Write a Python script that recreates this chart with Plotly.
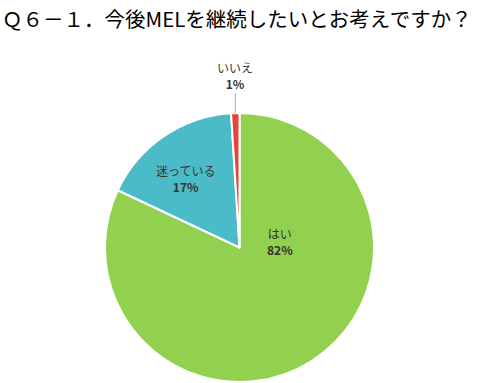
import math
import plotly.graph_objects as go

title_text = "Ｑ６－１．今後MELを継続したいとお考えですか？"
labels = ["はい", "迷っている", "いいえ"]
values = [82, 17, 1]
colors = ["#92D050", "#4BBBC8", "#E8423A"]

W, H = 479, 383
dom_x = [105 / W, 374 / W]
dom_y = [1 / H, 270 / H]
FONT = "Noto Sans CJK JP"

fig = go.Figure()
fig.add_trace(go.Pie(
    labels=labels,
    values=values,
    marker=dict(colors=colors, line=dict(color="white", width=2)),
    sort=False,
    direction="clockwise",
    rotation=0,
    domain=dict(x=dom_x, y=dom_y),
    textinfo="none",
    hoverinfo="label+percent",
    showlegend=False,
))

total = sum(values)
pct = [round(v / total * 100) for v in values]

# inside label placement (label block centres, paper coords)
label_pos = [(280 / W, 1 - 260 / H), (185 / W, 1 - 178 / H)]
for i, (lx, ly) in enumerate(label_pos):
    fig.add_annotation(
        x=lx, y=ly, xref="paper", yref="paper", showarrow=False,
        text=f"{labels[i]}<br><b>{pct[i]}%</b>",
        font=dict(family=FONT, size=12, color="#333333"),
    )

# outside label for the small slice, anchored at its outer mid-angle
cum = sum(values[:2])
mid = (cum + values[2] / 2) / total * 2 * math.pi
cx = (dom_x[0] + dom_x[1]) / 2
cy = (dom_y[0] + dom_y[1]) / 2
r_px = min((dom_x[1] - dom_x[0]) * W, (dom_y[1] - dom_y[0]) * H) / 2
px = cx + r_px * math.sin(mid) / W
py = cy + r_px * math.cos(mid) / H
fig.add_annotation(
    x=px, y=py, xref="paper", yref="paper",
    text=f"{labels[2]}<br><b>{pct[2]}%</b>",
    showarrow=True, arrowhead=0, arrowwidth=1, arrowcolor="#A6A6A6",
    ax=0, ay=-38,
    font=dict(family=FONT, size=12, color="#333333"),
)

fig.add_annotation(
    x=0, y=1, xref="paper", yref="paper", xanchor="left", yanchor="top",
    text=title_text, showarrow=False,
    font=dict(family=FONT, size=20.5, color="#000000"),
    borderpad=0, xshift=1, yshift=-2,
)

fig.update_layout(
    width=W, height=H,
    margin=dict(l=0, r=0, t=0, b=0),
    paper_bgcolor="white", plot_bgcolor="white",
)
fig.write_html(
    "out.html",
    config={"displayModeBar": False},
    post_script="document.body.style.margin='0';document.body.style.overflow='hidden';",
)
